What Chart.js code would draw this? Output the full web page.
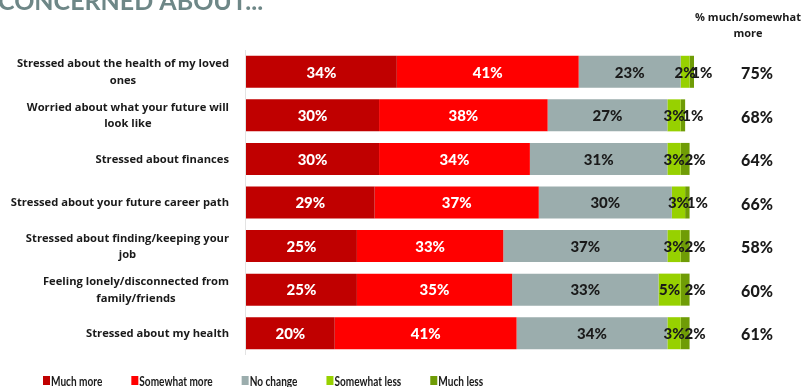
<!DOCTYPE html>
<html>
<head>
<meta charset="utf-8">
<script src="https://cdn.jsdelivr.net/npm/chart.js@4"></script>
<style>
  html, body { margin: 0; padding: 0; background: #fff; }
  #wrap { position: relative; width: 802px; height: 387px; }
</style>
</head>
<body>
<div id="wrap"><canvas id="c" width="802" height="387"></canvas></div>
<script>
// Concerns: share of respondents by change in level of concern
const categories = [
  ['Stressed about the health of my loved', 'ones'],
  ['Worried about what your future will', 'look like'],
  ['Stressed about finances'],
  ['Stressed about your future career path'],
  ['Stressed about finding/keeping your', 'job'],
  ['Feeling lonely/disconnected from', 'family/friends'],
  ['Stressed about my health']
];
const muchMore     = [34, 30, 30, 29, 25, 25, 20];
const somewhatMore = [41, 38, 34, 37, 33, 35, 41];
const noChange     = [23, 27, 31, 30, 37, 33, 34];
const somewhatLess = [2, 3, 3, 3, 3, 5, 3];
const muchLess     = [1, 1, 2, 1, 2, 2, 2];
const moreTotal    = [75, 68, 64, 66, 58, 60, 61];
const seriesNames  = ['Much more', 'Somewhat more', 'No change', 'Somewhat less', 'Much less'];
const titleText    = 'CONCERNED ABOUT...';
const totalHeader  = ['% much/somewhat', 'more'];

const colors = ['#C00000', '#FF0000', '#9BADAD', '#97D100', '#6F9C06'];
const labelColors = ['#ffffff', '#ffffff', '#1a1a1a', '#1a1a1a', '#1a1a1a'];
const FONT = 'Lato, "Open Sans", sans-serif';
const LABEL_FONT = '"Open Sans", Lato, sans-serif';

const seriesValues = [muchMore, somewhatMore, noChange, somewhatLess, muchLess];

// Text drawn on and around the bars, plus category labels, totals and legend
const decorations = {
  id: 'decorations',
  afterDatasetsDraw(chart) {
    const ctx = chart.ctx;
    const area = chart.chartArea;
    const yScale = chart.scales.y;

    ctx.save();
    // faint baseline axis
    ctx.strokeStyle = '#e3e3e3';
    ctx.lineWidth = 1;
    ctx.beginPath();
    ctx.moveTo(area.left - 0.5, area.top);
    ctx.lineTo(area.left - 0.5, area.bottom);
    ctx.stroke();

    // segment values
    ctx.textBaseline = 'middle';
    ctx.textAlign = 'center';
    ctx.font = '900 15px ' + FONT;
    chart.data.datasets.forEach((ds, di) => {
      const meta = chart.getDatasetMeta(di);
      meta.data.forEach((bar, i) => {
        const v = ds.data[i];
        let cx = (bar.x + bar.base) / 2;
        if (di === 4) cx += 10;
        ctx.fillStyle = labelColors[di];
        ctx.fillText(v + '%', cx, bar.y + 1);
      });
    });

    // category labels: right-aligned block, centred lines
    ctx.fillStyle = '#1a1a1a';
    ctx.font = 'bold 11.2px ' + LABEL_FONT;
    const rightEdge = 229;
    categories.forEach((lines, i) => {
      const cy = yScale.getPixelForValue(i);
      const widths = lines.map(l => ctx.measureText(l).width);
      const blockW = Math.max(...widths);
      const centre = rightEdge - blockW / 2;
      const lh = 16.5;
      const startY = cy - (lines.length - 1) * lh / 2 + 0.5;
      lines.forEach((l, k) => ctx.fillText(l, centre, startY + k * lh));
    });

    // totals column
    ctx.font = '900 16px ' + FONT;
    moreTotal.forEach((v, i) => {
      ctx.fillText(v + '%', 757, yScale.getPixelForValue(i) + 2);
    });
    ctx.font = 'bold 11px ' + LABEL_FONT;
    ctx.fillText(totalHeader[0], 748, 18);
    ctx.fillText(totalHeader[1], 748, 34);

    // title
    ctx.fillStyle = '#6E8787';
    ctx.textAlign = 'left';
    ctx.textBaseline = 'alphabetic';
    ctx.font = 'bold 25px ' + FONT;
    ctx.fillText(titleText, -2, 10);

    // legend (condensed lettering)
    const squeeze = 0.72;
    ctx.font = 'bold 14px ' + FONT;
    ctx.textBaseline = 'middle';
    let x = 43;
    seriesNames.forEach((name, di) => {
      ctx.fillStyle = colors[di];
      ctx.fillRect(x, 376, 7, 9);
      ctx.fillStyle = '#1a1a1a';
      ctx.save();
      ctx.translate(x + 8, 381);
      ctx.scale(squeeze, 1);
      ctx.fillText(name, 0, 0);
      ctx.restore();
      x += 8 + ctx.measureText(name).width * squeeze + 29;
    });
    ctx.restore();
  }
};

new Chart(document.getElementById('c'), {
  type: 'bar',
  data: {
    labels: categories.map(c => c.join(' ')),
    datasets: seriesNames.map((name, di) => ({
      label: name,
      data: seriesValues[di],
      backgroundColor: colors[di],
      borderWidth: 0,
      barPercentage: 0.735,
      categoryPercentage: 1
    }))
  },
  options: {
    indexAxis: 'y',
    responsive: false,
    animation: false,
    layout: { padding: { left: 246, right: 108, top: 50, bottom: 32 } },
    scales: {
      x: { stacked: true, min: 0, max: 101, display: false },
      y: { stacked: true, display: false }
    },
    plugins: {
      legend: { display: false },
      tooltip: { enabled: false }
    }
  },
  plugins: [decorations]
});
</script>
</body>
</html>
